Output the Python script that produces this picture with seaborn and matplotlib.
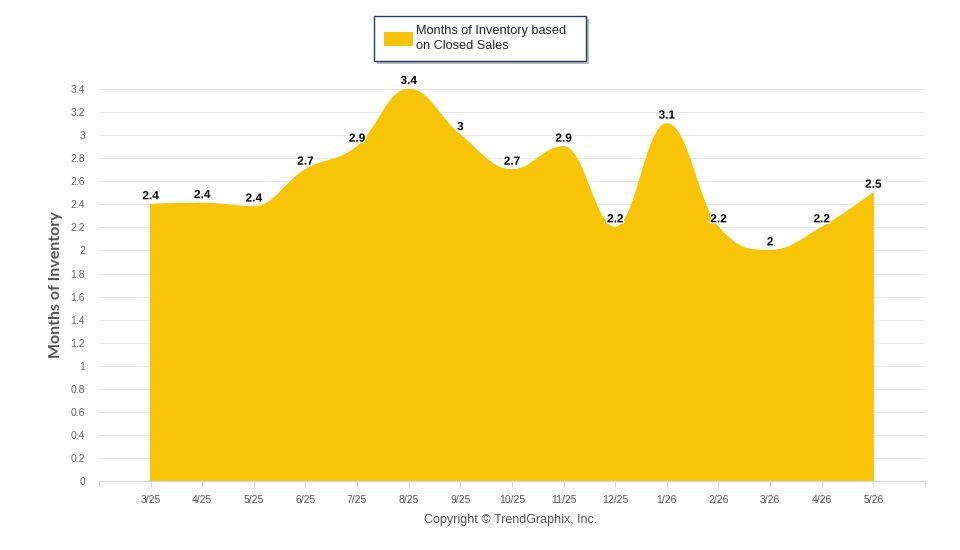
import numpy as np
import matplotlib
matplotlib.use("Agg")
import matplotlib.pyplot as plt
import seaborn as sns
from matplotlib.path import Path
from matplotlib.patches import PathPatch, Rectangle
import matplotlib.patheffects as pe
from matplotlib import font_manager as fm

months = ["3/25", "4/25", "5/25", "6/25", "7/25", "8/25", "9/25", "10/25",
          "11/25", "12/25", "1/26", "2/26", "3/26", "4/26", "5/26"]
inventory = [2.40, 2.41, 2.38, 2.7, 2.9, 3.4, 3.0, 2.7, 2.9, 2.2, 3.1, 2.2, 2.0, 2.2, 2.5]
yticks = [0, 0.2, 0.4, 0.6, 0.8, 1, 1.2, 1.4, 1.6, 1.8, 2, 2.2, 2.4, 2.6, 2.8, 3, 3.2, 3.4]
series_name = "Months of Inventory based\non Closed Sales"
ylabel = "Months of Inventory"
credit = "Copyright © TrendGraphix, Inc."

YELLOW = "#F7C408"

sns.set_theme(style="white")
plt.rcParams['font.family'] = ['Liberation Sans', 'DejaVu Sans']


def has_font(name):
    try:
        fm.findfont(fm.FontProperties(family=name), fallback_to_default=False)
        return True
    except Exception:
        return False

narrow = 'Liberation Sans Narrow' if has_font('Liberation Sans Narrow') else 'Liberation Sans'
label_font = 'Lato' if has_font('Lato') else 'DejaVu Sans'

fig = plt.figure(figsize=(9.6, 5.5), dpi=100)
ax = fig.add_axes([0.103, 0.1255, 0.8605, 0.7125])

x = np.arange(len(months), dtype=float)
y = np.array(inventory, dtype=float)

# Highcharts-style spline control points
n = len(x)
leftC = [(x[i], y[i]) for i in range(n)]
rightC = [(x[i], y[i]) for i in range(n)]
sm = 1.5
den = sm + 1
for i in range(1, n - 1):
    px, py = x[i], y[i]
    lx, ly = x[i - 1], y[i - 1]
    nx, ny = x[i + 1], y[i + 1]
    lcx = (sm * px + lx) / den
    lcy = (sm * py + ly) / den
    rcx = (sm * px + nx) / den
    rcy = (sm * py + ny) / den
    if rcx != lcx:
        corr = ((rcy - lcy) * (rcx - px)) / (rcx - lcx) + py - rcy
        lcy += corr
        rcy += corr
    if lcy > ly and lcy > py:
        lcy = max(ly, py)
        rcy = 2 * py - lcy
    elif lcy < ly and lcy < py:
        lcy = min(ly, py)
        rcy = 2 * py - lcy
    if rcy > ny and rcy > py:
        rcy = max(ny, py)
        lcy = 2 * py - rcy
    elif rcy < ny and rcy < py:
        rcy = min(ny, py)
        lcy = 2 * py - rcy
    leftC[i] = (lcx, lcy)
    rightC[i] = (rcx, rcy)

verts = [(x[0], 0.0), (x[0], y[0])]
codes = [Path.MOVETO, Path.LINETO]
for i in range(1, n):
    verts += [rightC[i - 1], leftC[i], (x[i], y[i])]
    codes += [Path.CURVE4, Path.CURVE4, Path.CURVE4]
verts += [(x[-1], 0.0), (x[0], 0.0)]
codes += [Path.LINETO, Path.CLOSEPOLY]
ax.add_patch(PathPatch(Path(verts, codes), facecolor=YELLOW, edgecolor=YELLOW, lw=0.8, zorder=3))

ax.set_xlim(-1, 15)
ax.set_ylim(0, 3.4)

ax.set_yticks(yticks)
ax.set_yticklabels([f"{v:g}" for v in yticks], fontsize=7.5, color="#666666", family=narrow)
ax.set_xticks(np.arange(-1, 16))
ax.set_xticklabels([""] + months + [""], fontsize=7.5, color="#555555", family=narrow)
ax.tick_params(axis='y', length=0, pad=10)
ax.tick_params(axis='x', length=4, width=0.8, color="#d8d8d8", pad=6, direction='out', bottom=True)
ax.grid(axis='y', color="#e8e8e8", lw=0.8, zorder=0)
ax.grid(axis='x', visible=False)
for s in ['top', 'right', 'left']:
    ax.spines[s].set_visible(False)
ax.spines['bottom'].set_color("#d8d8d8")
ax.spines['bottom'].set_linewidth(0.8)
ax.spines['bottom'].set_zorder(4)

for xi, yi in zip(x, y):
    ax.annotate(f"{yi:.1f}".rstrip('0').rstrip('.'), (xi, yi), xytext=(0, 1.5), textcoords='offset points',
                ha='center', va='bottom', fontsize=8.5, fontweight='bold', color='black',
                zorder=5, clip_on=False,
                path_effects=[pe.withStroke(linewidth=2, foreground='white')])

ax.set_ylabel(ylabel, fontsize=11.5, fontweight='bold', color="#555555", family=[label_font, 'DejaVu Sans'])
ax.yaxis.set_label_coords(-0.043, 0.5)

# Legend box (figure pixel coords)
W, H = 960, 550
def fx(px):
    return px / W
def fy(py):
    return 1 - py / H

shadow = Rectangle((fx(377), fy(64)), fx(212), 45 / H, transform=fig.transFigure,
                   facecolor="#bbbbbb", edgecolor='none', zorder=1)
box = Rectangle((fx(374), fy(61)), fx(212), 45 / H, transform=fig.transFigure,
                facecolor='white', edgecolor="#1f3a6b", lw=1.0, zorder=2)
fig.patches.extend([shadow, box])
fig.patches.append(Rectangle((fx(384), fy(46)), fx(29), 14 / H, transform=fig.transFigure,
                             facecolor=YELLOW, edgecolor='none', zorder=3))
fig.text(fx(416), fy(38.5), series_name, fontsize=9.2, color="#222222", va='center', ha='left',
         linespacing=1.35, zorder=4)

fig.text(fx(511), fy(520), credit, fontsize=9, color="#555555", ha='center', va='center', family=narrow)

fig.savefig("out.png", dpi=100)
